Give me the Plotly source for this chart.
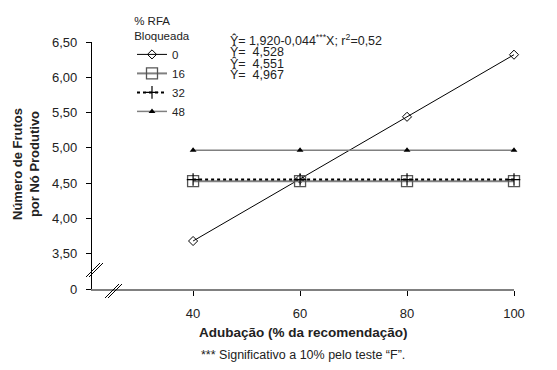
import plotly.graph_objects as go

# ---- data ----
doses = [40, 60, 80, 100]
rfa_levels = ["0", "16", "32", "48"]
y_rfa0 = [3.68, 4.56, 5.44, 6.32]
y_rfa16 = [4.528, 4.528, 4.528, 4.528]
y_rfa32 = [4.551, 4.551, 4.551, 4.551]
y_rfa48 = [4.967, 4.967, 4.967, 4.967]
y_tickvals = [3.0, 3.5, 4.0, 4.5, 5.0, 5.5, 6.0, 6.5]
y_ticktext = ["0", "3,50", "4,00", "4,50", "5,00", "5,50", "6,00", "6,50"]
x_tickvals = [40, 60, 80, 100]
equations = ["Ŷ= 1,920-0,044<sup>***</sup>X; r<sup>2</sup>=0,52", "Ŷ=  4,528", "Ŷ=  4,551", "Ŷ=  4,967"]

FONT = "Liberation Sans, Arial, sans-serif"
W, H = 557, 370
OFF = 8  # page body margin: figure drawn 8px right / down in the photo
# target pixel positions (in the photographed window)
PLOT_LEFT, PLOT_RIGHT, PLOT_BOTTOM, AXIS_TOP = 92, 514, 289, 42
L = PLOT_LEFT - OFF
R = W - (PLOT_RIGHT - OFF)
B = H - (PLOT_BOTTOM - OFF)
T = 2
PW, PH = W - L - R, H - T - B


def px(x):
    return (x - OFF - L) / PW


def py(y):
    return (H - B - (y - OFF)) / PH


fig = go.Figure()
fig.add_trace(go.Scatter(x=doses, y=y_rfa0, name=rfa_levels[0], mode="lines+markers",
                         line=dict(color="black", width=1),
                         marker=dict(symbol="diamond-open", size=7, color="black", line=dict(width=1))))
fig.add_trace(go.Scatter(x=doses, y=y_rfa16, name=rfa_levels[1], mode="lines+markers",
                         line=dict(color="#808080", width=2),
                         marker=dict(symbol="square-open", size=11, color="#555555", line=dict(width=1.3))))
fig.add_trace(go.Scatter(x=doses, y=y_rfa32, name=rfa_levels[2], mode="lines+markers",
                         line=dict(color="black", width=2, dash="dot"),
                         marker=dict(symbol="cross-thin-open", size=9, color="black", line=dict(width=1.2))))
fig.add_trace(go.Scatter(x=doses, y=y_rfa48, name=rfa_levels[3], mode="lines+markers",
                         line=dict(color="#808080", width=1.5),
                         marker=dict(symbol="triangle-up", size=6, color="black")))

fig.update_traces(cliponaxis=False)

annotations = []
for i, eq in enumerate(equations):
    annotations.append(dict(xref="paper", yref="paper", x=px(228), y=py(40 + 11.5 * i),
                            xanchor="left", yanchor="middle", showarrow=False, text=eq,
                            font=dict(size=12.5, family=FONT, color="#222")))
annotations.append(dict(xref="paper", yref="paper", x=px(26), y=py(164), textangle=-90,
                        xanchor="center", yanchor="middle",
                        showarrow=False, text="<b>Número de Frutos<br>por Nó Produtivo</b>",
                        font=dict(size=13, family=FONT, color="#222")))
annotations.append(dict(xref="paper", yref="paper", x=px(303), y=py(332), xanchor="center", yanchor="middle",
                        showarrow=False, text="<b>Adubação (% da recomendação)</b>",
                        font=dict(size=13.5, family=FONT, color="#222")))
annotations.append(dict(xref="paper", yref="paper", x=px(303), y=py(355), xanchor="center", yanchor="middle",
                        showarrow=False, text="*** Significativo a 10% pelo teste “F”.",
                        font=dict(size=12.5, family=FONT, color="#222")))

shapes = []
# axis break marks
for dx in (0, 3):
    shapes.append(dict(type="line", xref="paper", yref="paper",
                       x0=px(86 + dx), y0=py(277), x1=px(100 + dx), y1=py(263),
                       line=dict(color="black", width=1)))
    shapes.append(dict(type="line", xref="paper", yref="paper",
                       x0=px(105 + dx), y0=py(298), x1=px(119 + dx), y1=py(284),
                       line=dict(color="black", width=1)))

fig.update_layout(
    width=W, height=H,
    margin=dict(l=L, r=R, t=T, b=B),
    paper_bgcolor="white", plot_bgcolor="white",
    font=dict(family=FONT, color="#222", size=12),
    xaxis=dict(range=[21.1, 100], tickvals=x_tickvals, showgrid=False, zeroline=False,
               showline=True, linecolor="#808080", linewidth=2, ticks="outside", ticklen=5,
               tickcolor="black", tickwidth=1, ticklabelstandoff=6, automargin=False,
               tickfont=dict(size=13, family=FONT, color="#222")),
    yaxis=dict(range=[3.0, 6.5], domain=[0, py(AXIS_TOP)], tickvals=y_tickvals, ticktext=y_ticktext,
               showgrid=False, automargin=False,
               zeroline=False, showline=True, linecolor="black", linewidth=1.3,
               ticks="outside", ticklen=5, tickcolor="black", tickwidth=1, ticklabelstandoff=6,
               tickfont=dict(size=13, family=FONT, color="#222")),
    legend=dict(x=px(132), y=py(10), xanchor="left", yanchor="top",
                title=dict(text="% RFA<br>Bloqueada", side="top center",
                           font=dict(size=11.5, family=FONT, color="#222")),
                font=dict(size=11.5, family=FONT, color="#222"),
                bgcolor="rgba(0,0,0,0)", tracegroupgap=0, itemwidth=30),
    showlegend=True,
    annotations=annotations,
    shapes=shapes,
)

fig.write_html("out.html")
